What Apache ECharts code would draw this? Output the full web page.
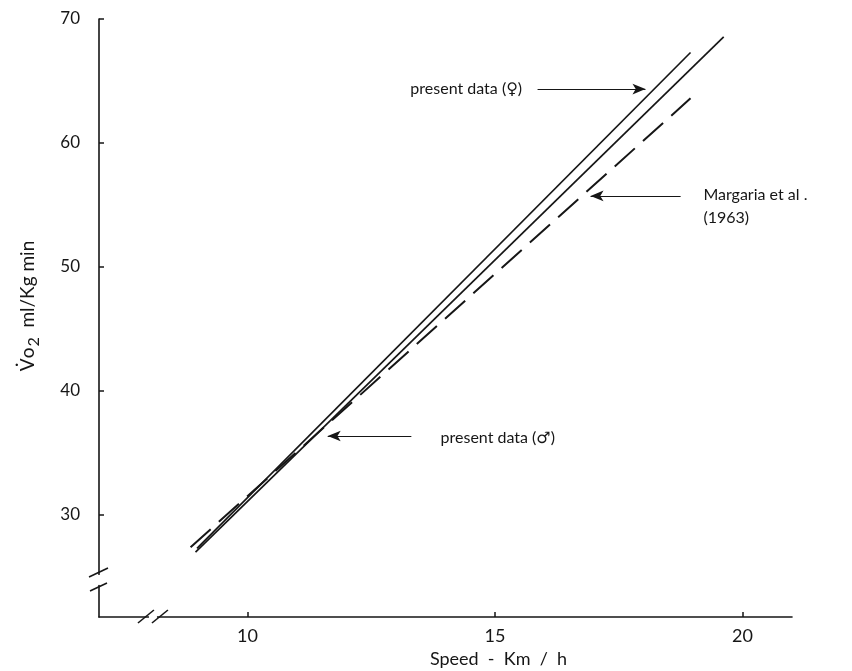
<!DOCTYPE html>
<html>
<head>
<meta charset="utf-8">
<script src="https://cdn.jsdelivr.net/npm/echarts@6/dist/echarts.min.js"></script>
<style>
html,body{margin:0;padding:0;background:#fff;}
#chart{width:852px;height:671px;}
</style>
</head>
<body>
<div id="chart"></div>
<script>
// ---- data ----
const xTicks = [10, 15, 20];
const yTicks = [30, 40, 50, 60, 70];
const femaleSpeed = [8.98, 18.95];
const femaleVo2 = [27.3, 67.3];
const maleSpeed = [8.95, 19.62];
const maleVo2 = [27.0, 68.55];
const margariaSpeed = [8.85, 18.95];
const margariaVo2 = [27.4, 63.6];

// annotation arrows: [x from, x to, y]
const arrowFemale = [15.86, 18.04, 64.35];
const arrowMargaria = [18.75, 16.93, 55.73];
const arrowMale = [13.31, 11.62, 36.37];
// annotation texts: [x, y, text]
const noteFemale = [13.29, 64.35, 'present data (\u2640)'];
const noteMargaria1 = [19.21, 55.8, 'Margaria et al .'];
const noteMargaria2 = [19.21, 54.0, '(1963)'];
const noteMale = [13.9, 36.25, 'present data (\u2642)'];
// axis break positions
const yBreakValue = 24.76;
const xBreakValue = 8.09;

const FONT = 'Lato, "DejaVu Sans", sans-serif';
const INK = '#161616';

function pairs(xs, ys) { return xs.map((x, i) => [x, ys[i]]); }
function arrow(a) { return [{ coord: [a[0], a[2]] }, { coord: [a[1], a[2]] }]; }

const chart = echarts.init(document.getElementById('chart'), null, { renderer: 'canvas' });

const option = {
  animation: false,
  backgroundColor: '#fff',
  grid: { left: 99, right: 60, top: 19, bottom: 54, outerBoundsMode: 'none', containLabel: false },
  xAxis: {
    type: 'value', min: 7, max: 21,
    name: 'Speed  -  Km  /  h', nameLocation: 'middle', nameGap: 33,
    nameTextStyle: { fontFamily: FONT, fontSize: 18, color: INK, padding: [0, 0, 0, 106] },
    axisLine: { show: true, onZero: false, lineStyle: { color: INK, width: 1.6 } },
    axisTick: { show: true, inside: true, length: 5, customValues: xTicks, lineStyle: { color: INK, width: 1.5 } },
    axisLabel: { customValues: xTicks, fontFamily: FONT, fontSize: 18, color: INK, margin: 10 },
    splitLine: { show: false }
  },
  yAxis: {
    type: 'value', min: 21.77, max: 70,
    name: '{v|V\u0307o}{s|2}{v|  ml/Kg min}', nameLocation: 'middle', nameGap: 57,
    nameTextStyle: {
      fontFamily: FONT, fontSize: 19, color: INK, padding: [0, 0, 0, 24],
      rich: {
        v: { fontFamily: FONT, fontSize: 19, color: INK },
        s: { fontFamily: FONT, fontSize: 16, color: INK, padding: [12, 0, 0, 1] }
      }
    },
    axisLine: { show: true, onZero: false, lineStyle: { color: INK, width: 1.6 } },
    axisTick: { show: true, inside: true, length: 5, customValues: yTicks, lineStyle: { color: INK, width: 1.5 } },
    axisLabel: { customValues: yTicks, fontFamily: FONT, fontSize: 17, color: INK, margin: 19 },
    splitLine: { show: false }
  },
  series: [
    {
      name: 'present data (female)', type: 'line', symbol: 'none', silent: true,
      data: pairs(femaleSpeed, femaleVo2),
      lineStyle: { color: INK, width: 1.7 },
      markLine: {
        silent: true, symbol: ['none', 'arrow'], symbolSize: [8, 13],
        label: { show: false },
        lineStyle: { color: INK, width: 1.1, type: 'solid' },
        data: [arrow(arrowFemale), arrow(arrowMargaria), arrow(arrowMale)]
      }
    },
    {
      name: 'present data (male)', type: 'line', symbol: 'none', silent: true,
      data: pairs(maleSpeed, maleVo2),
      lineStyle: { color: INK, width: 1.7 }
    },
    {
      name: 'Margaria et al. (1963)', type: 'line', symbol: 'none', silent: true,
      data: pairs(margariaSpeed, margariaVo2),
      lineStyle: { color: INK, width: 2, type: [27, 11] }
    }
  ]
};
chart.setOption(option);

function px(x, y) { return chart.convertToPixel({ gridIndex: 0 }, [x, y]); }
const texts = [noteFemale, noteMargaria1, noteMargaria2, noteMale].map(n => {
  const p = px(n[0], n[1]);
  return {
    type: 'text', x: p[0], y: p[1], silent: true,
    style: { text: n[2], fontFamily: FONT, fontSize: 16, fill: INK, textVerticalAlign: 'middle', textAlign: 'left' }
  };
});
const yb = px(7, yBreakValue);
const xb = px(xBreakValue, 21.77);
const breaks = [
  { type: 'rect', shape: { x: yb[0] - 4, y: yb[1] - 5, width: 8, height: 10 }, style: { fill: '#fff' }, silent: true, z: 100 },
  { type: 'line', shape: { x1: yb[0] - 10, y1: yb[1] - 3, x2: yb[0] + 9, y2: yb[1] - 12 }, style: { stroke: INK, lineWidth: 1.6 }, silent: true, z: 101 },
  { type: 'line', shape: { x1: yb[0] - 9, y1: yb[1] + 11, x2: yb[0] + 8, y2: yb[1] + 3 }, style: { stroke: INK, lineWidth: 1.6 }, silent: true, z: 101 },
  { type: 'rect', shape: { x: xb[0] - 4, y: xb[1] - 4, width: 8, height: 8 }, style: { fill: '#fff' }, silent: true, z: 100 },
  { type: 'line', shape: { x1: xb[0] - 15, y1: xb[1] + 6, x2: xb[0] + 1, y2: xb[1] - 7 }, style: { stroke: INK, lineWidth: 1.6 }, silent: true, z: 101 },
  { type: 'line', shape: { x1: xb[0] - 1, y1: xb[1] + 6, x2: xb[0] + 15, y2: xb[1] - 7 }, style: { stroke: INK, lineWidth: 1.6 }, silent: true, z: 101 }
];
chart.setOption({ graphic: texts.concat(breaks) });
</script>
</body>
</html>
